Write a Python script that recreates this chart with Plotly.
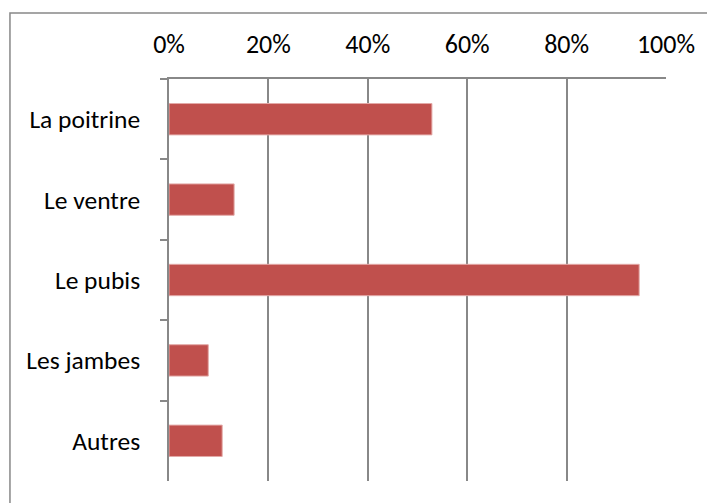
import plotly.graph_objects as go

categories = ["La poitrine", "Le ventre", "Le pubis", "Les jambes", "Autres"]
shares = [52.9, 13.1, 94.6, 7.9, 10.7]
x_ticks = [0, 20, 40, 60, 80, 100]
x_tick_labels = ["0%", "20%", "40%", "60%", "80%", "100%"]

GRAY = "#888888"
FONT = "Calibri, Carlito, Lato, sans-serif"

fig = go.Figure(
    go.Bar(
        x=shares,
        y=categories,
        orientation="h",
        marker=dict(color="#C0504D", line=dict(color="#E3A9A7", width=1)),
        hoverinfo="x+y",
    )
)

# the page body adds 8px on the left/top, so margins are 8px smaller
fig.update_layout(
    width=715,
    height=503,
    margin=dict(l=161, r=57, t=71, b=30),
    paper_bgcolor="white",
    plot_bgcolor="white",
    bargap=0.61,
    showlegend=False,
    font=dict(family=FONT, size=25, color="black"),
)

fig.update_xaxes(
    side="top",
    range=[0, 100],
    tickvals=x_ticks,
    ticktext=x_tick_labels,
    tickfont=dict(size=26),
    showgrid=True,
    gridcolor=GRAY,
    gridwidth=1.5,
    showline=True,
    linecolor=GRAY,
    linewidth=1.5,
    zeroline=False,
    ticks="",
    ticklabelstandoff=14,
)

fig.update_yaxes(
    autorange="reversed",
    tickfont=dict(size=25.5),
    showline=True,
    linecolor=GRAY,
    linewidth=1.5,
    showgrid=False,
    ticks="outside",
    ticklen=7,
    tickwidth=1.5,
    tickcolor=GRAY,
    tickson="boundaries",
    ticklabelstandoff=22,
)

# outer chart-area border (runs off the right and bottom of the window)
fig.add_shape(
    type="rect",
    xref="paper",
    yref="paper",
    x0=-0.32,
    x1=1.2,
    y0=-0.2,
    y1=1.164,
    line=dict(color=GRAY, width=1.5),
    fillcolor="rgba(0,0,0,0)",
    layer="below",
)

fig.write_html("out.html")
